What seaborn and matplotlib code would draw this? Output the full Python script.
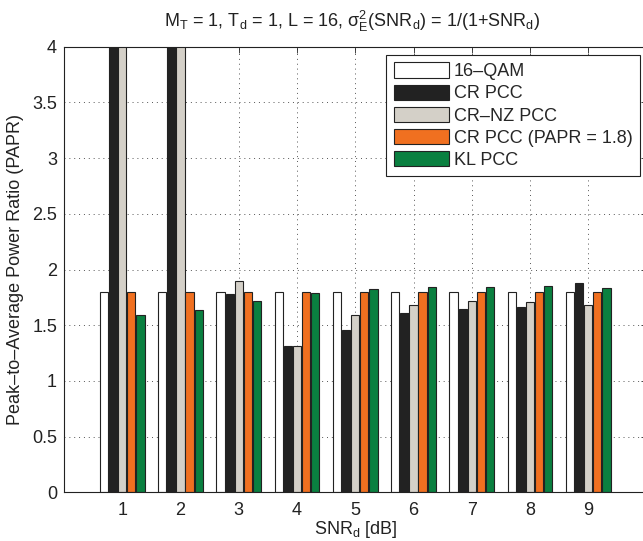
import numpy as np
import pandas as pd
import seaborn as sns
import matplotlib
matplotlib.use("Agg")
import matplotlib.pyplot as plt

# ---- data ----
snr_db = [1, 2, 3, 4, 5, 6, 7, 8, 9]
schemes = ["16\u2013QAM", "CR PCC", "CR\u2013NZ PCC", "CR PCC (PAPR = 1.8)", "KL PCC"]
qam16 = [1.80, 1.80, 1.80, 1.80, 1.80, 1.80, 1.80, 1.80, 1.80]
cr_pcc = [4.60, 4.60, 1.777, 1.317, 1.461, 1.606, 1.645, 1.663, 1.876]
crnz_pcc = [4.60, 4.60, 1.900, 1.314, 1.594, 1.684, 1.720, 1.708, 1.684]
cr_pcc_18 = [1.80, 1.80, 1.80, 1.80, 1.80, 1.80, 1.80, 1.80, 1.80]
kl_pcc = [1.588, 1.636, 1.714, 1.786, 1.822, 1.840, 1.846, 1.849, 1.837]
colors = ["#ffffff", "#222222", "#d4d0c8", "#f07020", "#0a8040"]
y_ticks = [0, 0.5, 1, 1.5, 2, 2.5, 3, 3.5, 4]

series = [qam16, cr_pcc, crnz_pcc, cr_pcc_18, kl_pcc]
rows = []
for name, vals in zip(schemes, series):
    for s, v in zip(snr_db, vals):
        rows.append({"snr": s, "papr": v, "scheme": name})
df = pd.DataFrame(rows)

sns.set_theme(style="white")
plt.rcParams["font.family"] = ["Liberation Sans", "DejaVu Sans"]
plt.rcParams["mathtext.fontset"] = "custom"
plt.rcParams["mathtext.rm"] = "Liberation Sans"
plt.rcParams["mathtext.it"] = "Liberation Sans"
plt.rcParams["mathtext.default"] = "regular"
FS = 13

fig = plt.figure(figsize=(6.43, 5.41), dpi=100)
ax = fig.add_axes([64 / 643, 48.7 / 541, 582.5 / 643, 445.6 / 541])

sns.barplot(data=df, x="snr", y="papr", hue="scheme", hue_order=schemes,
            palette=colors, width=0.78, gap=0.1, edgecolor="#222222",
            linewidth=0.8, saturation=1, ax=ax, errorbar=None)

ax.set_xlim(-1, 9)
ax.set_ylim(0, 4)
ax.set_yticks(y_ticks)
ax.set_yticklabels(["0", "0.5", "1", "1.5", "2", "2.5", "3", "3.5", "4"], fontsize=FS)
ax.set_xticks(range(len(snr_db)))
ax.set_xticklabels([str(s) for s in snr_db], fontsize=FS)
ax.tick_params(direction="in", length=4, width=0.6, top=True, right=True,
               colors="#222222", labelcolor="#222222")
ax.tick_params(axis="y", pad=5)
ax.tick_params(axis="x", pad=7)
ax.grid(True, linestyle=(0, (1, 4)), color="#555555", linewidth=0.7)
ax.set_axisbelow(True)
for sp in ax.spines.values():
    sp.set_color("#222222")
    sp.set_linewidth(0.8)

ax.set_xlabel("SNR$_d$ [dB]", fontsize=FS, color="#222222", labelpad=0)
ax.set_ylabel("Peak\u2013to\u2013Average Power Ratio (PAPR)", fontsize=FS, color="#222222", labelpad=6)
fig.text(352 / 643, 1 - 21 / 541,
         "M$_T$ = 1, T$_d$ = 1, L = 16, $\\sigma_E^2$(SNR$_d$) = 1/(1+SNR$_d$)",
         ha="center", va="center", fontsize=FS, color="#222222")

handles, labels = ax.get_legend_handles_labels()
leg = ax.legend(handles, labels, loc="upper right", bbox_to_anchor=(0.989, 0.981),
                borderaxespad=0, fontsize=FS, frameon=True, fancybox=False,
                edgecolor="#222222", framealpha=1, handlelength=3.05,
                handleheight=0.92, labelspacing=0.24, handletextpad=0.3,
                borderpad=0.4)
leg.get_frame().set_linewidth(0.8)

fig.savefig("out.png", dpi=100)
